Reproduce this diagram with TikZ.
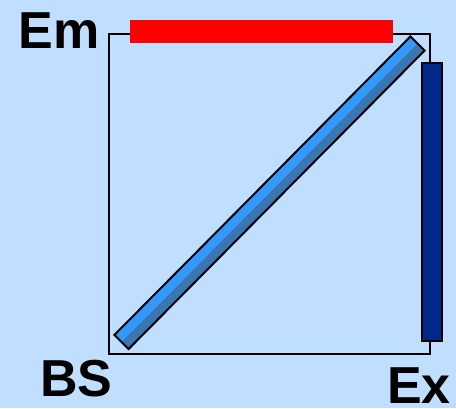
\documentclass[tikz,border=0pt]{standalone}
\usepackage{fontspec}
\setmainfont{Liberation Sans}
\usepackage{xcolor}
\usepackage{tikz}
\usetikzlibrary{positioning}

\definecolor{bgblue}{RGB}{192,222,255}
\definecolor{barlight}{RGB}{51,153,255}
\definecolor{bardark}{RGB}{58,118,178}
\definecolor{exblue}{RGB}{0,40,140}

\tikzset{
    lbl/.style={anchor=base west, inner sep=0pt, font=\fontsize{52pt}{52pt}\selectfont\bfseries},
}

\begin{document}
\begin{tikzpicture}[x=1pt, y=-1pt]
    \fill[bgblue] (0,0) rectangle (456,408);
    \useasboundingbox (0,0) rectangle (456,408);

    % frame
    \draw[line width=1.5pt] (109,34) rectangle (430,354);

    % emission bar
    \fill[red] (130,20) rectangle (393,43);

    % excitation bar
    \draw[line width=2pt, fill=exblue] (422,63) rectangle (442,341);

    % beam splitter
    \begin{scope}[shift={(121.5,342)}, rotate=45.24]
        \fill[barlight] (0,0) rectangle (420.4,-10);
        \fill[bardark]  (0,0) rectangle (420.4,10);
        \draw[line width=2pt] (0,-10) rectangle (420.4,10);
    \end{scope}

    \node[lbl] (em) at (18.2,48)  {Em};
    \node[lbl] (bs) at (40.2,396.5) {BS};
    \node[lbl] (ex) at (387,403) {Ex};
\end{tikzpicture}
\end{document}
